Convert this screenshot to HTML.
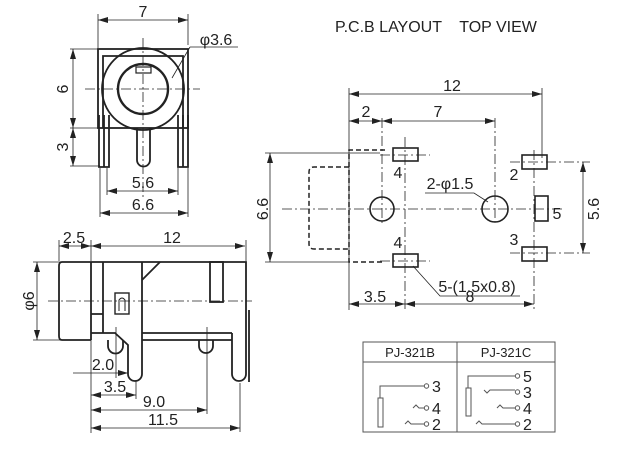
<!DOCTYPE html>
<html><head><meta charset="utf-8"><style>
html,body{margin:0;padding:0;background:#fff;width:632px;height:451px;overflow:hidden}
svg{display:block}
text{font-family:"Liberation Sans",sans-serif;fill:#222}
</style></head><body>
<svg width="632" height="451" viewBox="0 0 632 451" xmlns="http://www.w3.org/2000/svg">
<defs>
<marker id="a" viewBox="0 0 10 6" refX="10" refY="3" markerWidth="10" markerHeight="6" orient="auto-start-reverse" markerUnits="userSpaceOnUse"><path d="M0,0 L10,3 L0,6 z" fill="#222"/></marker>
</defs>
<g stroke="#222" fill="none" stroke-width="1">
<!-- FRONT VIEW -->
<g stroke-width="1.8">
<rect x="98" y="49" width="90" height="79"/>
<path d="M103,128 V56 H183 V128"/>
<circle cx="143" cy="89" r="41"/>
<circle cx="143" cy="89" r="25" stroke-width="2.4"/>
<rect x="136" y="67" width="15" height="6" stroke-width="1.2"/>
<path d="M99,115 V167 H109 V115 M104,115 V167"/>
<path d="M178,115 V167 H188 V115 M183,115 V167"/>
<path d="M137,128 V160 A6.5,6.5 0 0 0 150,160 V128"/>
</g>
<g stroke-width="0.8" stroke-dasharray="10,3,2,3">
<path d="M143,38 V198"/><path d="M85,89 H200"/>
</g>
<g stroke-width="0.8">
<path d="M98,48 V14 M188,45 V14"/>
<path d="M98,20 H188" marker-start="url(#a)" marker-end="url(#a)"/>
<path d="M190,47 H238 M190,47 L172,78"/>
<path d="M70,49 H98 M70,128 H100 M70,166 H100"/>
<path d="M73,49 V128" marker-start="url(#a)" marker-end="url(#a)"/>
<path d="M73,128 V166" marker-start="url(#a)" marker-end="url(#a)"/>
<path d="M107,168 V195 M178,168 V195 M100,168 V217 M188,168 V217"/>
<path d="M107,191 H178" marker-start="url(#a)" marker-end="url(#a)"/>
<path d="M100,213 H188" marker-start="url(#a)" marker-end="url(#a)"/>
</g>
<!-- SIDE VIEW -->
<g stroke-width="1.8">
<path d="M62,262 H246 V333 M62,262 Q59,262 59,266 V336 Q59,340 62,340 H91"/>
<path d="M91,262 V340 M103,262 V333 M91,314 H103 M91,333 H115 L128,345 V374 A7,7 0 0 0 142,374 V262"/>
<path d="M142,333 H232 M142,340 H232 M232,333 V374 A7,7 0 0 0 246,374 V333"/>
<path d="M142,280 L160,262"/>
<rect x="210" y="262" width="13" height="40"/>
<path d="M108,340 V346 A7.5,7.5 0 0 0 123,346 V340 M199,340 V346 A7,7 0 0 0 213,346 V340"/>
<path d="M249,310 V382"/>
</g>
<rect x="115" y="293" width="14" height="21" stroke-width="1.4"/>
<path d="M119,311 V300 Q122,296 125,300 V311" stroke-width="1"/>
<g stroke-width="0.8" stroke-dasharray="10,3,2,3"><path d="M48,301 H252"/></g>
<g stroke-width="0.8">
<path d="M59,261 V240 M91,261 V240 M246,261 V240"/>
<path d="M59,246 H91" marker-start="url(#a)" marker-end="url(#a)"/>
<path d="M91,246 H245" marker-start="url(#a)" marker-end="url(#a)"/>
<path d="M33,262 H60 M33,340 H60"/>
<path d="M37,262 V340" marker-start="url(#a)" marker-end="url(#a)"/>
<path d="M91,340 V433 M116,327 V378 M136,380 V399 M207,327 V414 M240,383 V432"/>
<path d="M73,373 H128" marker-end="url(#a)"/>
<path d="M91,395 H136" marker-start="url(#a)" marker-end="url(#a)"/>
<path d="M91,410 H207" marker-start="url(#a)" marker-end="url(#a)"/>
<path d="M91,428 H240" marker-start="url(#a)" marker-end="url(#a)"/>
</g>
<!-- PCB LAYOUT -->
<g stroke-width="1.6">
<rect x="393" y="148" width="25" height="13"/>
<rect x="393" y="254" width="25" height="13"/>
<rect x="522" y="155" width="25" height="14"/>
<rect x="535" y="196" width="13" height="25"/>
<rect x="522" y="247" width="25" height="14"/>
<circle cx="382" cy="209" r="12"/>
<circle cx="495" cy="209" r="13"/>
</g>
<g stroke-width="1.5" stroke-dasharray="5,3">
<path d="M385,150 H349 V262 H385"/>
<path d="M349,167 H314 Q309,167 309,172 V244 Q309,249 314,249 H349"/>
</g>
<g stroke-width="0.8" stroke-dasharray="10,3,2,3">
<path d="M282,209 H565"/>
<path d="M405,137 V310 M534,150 V310 M382,118 V226 M495,118 V222"/>
<path d="M380,155 H430 M380,261 H430 M510,162 H590 M510,253 H590"/>
</g>
<g stroke-width="0.8">
<path d="M349,88 V310 M542,88 V158"/>
<path d="M349,94 H542" marker-start="url(#a)" marker-end="url(#a)"/>
<path d="M349,121 H382" marker-start="url(#a)" marker-end="url(#a)"/>
<path d="M382,121 H495" marker-start="url(#a)" marker-end="url(#a)"/>
<path d="M265,153 H380 M265,262 H349"/>
<path d="M270,153 V262" marker-start="url(#a)" marker-end="url(#a)"/>
<path d="M583,162 V253" marker-start="url(#a)" marker-end="url(#a)"/>
<path d="M425,193 H474 L488,202"/>
<path d="M520,296 H440 L413,266"/>
<path d="M349,304 H405" marker-start="url(#a)" marker-end="url(#a)"/>
<path d="M405,304 H534" marker-start="url(#a)" marker-end="url(#a)"/>
</g>
<!-- TABLE -->
<g stroke-width="1" stroke="#555">
<rect x="363" y="342" width="192" height="90"/>
<path d="M363,362 H555 M457,342 V432"/>
<rect x="378" y="398" width="5" height="29"/>
<path d="M380,398 V386 H424 M413,408 L416,405 L419,408 H424 M405,424 L408,421 L411,424 H424"/>
<circle cx="426.5" cy="386" r="2.2"/><circle cx="426.5" cy="408" r="2.2"/><circle cx="426.5" cy="424" r="2.2"/>
<rect x="466" y="388" width="5" height="28"/>
<path d="M468,388 V376 H515 M484,390 L487,393 L490,390 H515 M497,408 L500,405 L503,408 H515 M476,424 L479,421 L482,424 H515"/>
<circle cx="517.5" cy="376" r="2.2"/><circle cx="517.5" cy="392" r="2.2"/><circle cx="517.5" cy="408" r="2.2"/><circle cx="517.5" cy="424" r="2.2"/>
</g>
</g>
<g font-size="16" text-anchor="middle">
<text x="143" y="17">7</text>
<text x="216" y="45">φ3.6</text>
<text x="143" y="188">5.6</text>
<text x="143" y="210">6.6</text>
<text transform="translate(68,89) rotate(-90)">6</text>
<text transform="translate(68,147) rotate(-90)">3</text>
<text x="74" y="243">2.5</text>
<text x="172" y="243">12</text>
<text transform="translate(34,301) rotate(-90)">φ6</text>
<text x="103" y="370">2.0</text>
<text x="115" y="392">3.5</text>
<text x="154" y="407">9.0</text>
<text x="163" y="425">11.5</text>
<text x="452" y="91">12</text>
<text x="366" y="117">2</text>
<text x="438" y="117">7</text>
<text transform="translate(268,209) rotate(-90)">6.6</text>
<text transform="translate(599,209) rotate(-90)">5.6</text>
<text x="398" y="178">4</text>
<text x="398" y="248">4</text>
<text x="514" y="180">2</text>
<text x="557" y="219">5</text>
<text x="514" y="245">3</text>
<text x="450" y="189">2-φ1.5</text>
<text x="477" y="292">5-(1.5x0.8)</text>
<text x="375" y="302">3.5</text>
<text x="470" y="302">8</text>
</g>
<text x="335" y="32" font-size="16" xml:space="preserve">P.C.B LAYOUT    TOP VIEW</text>
<g font-size="13">
<text x="410" y="357" text-anchor="middle">PJ-321B</text>
<text x="506" y="357" text-anchor="middle">PJ-321C</text>
<text x="432" y="392" font-size="16">3</text>
<text x="432" y="414" font-size="16">4</text>
<text x="432" y="430" font-size="16">2</text>
<text x="523" y="382" font-size="16">5</text>
<text x="523" y="398" font-size="16">3</text>
<text x="523" y="414" font-size="16">4</text>
<text x="523" y="430" font-size="16">2</text>
</g>
</svg>
</body></html>
